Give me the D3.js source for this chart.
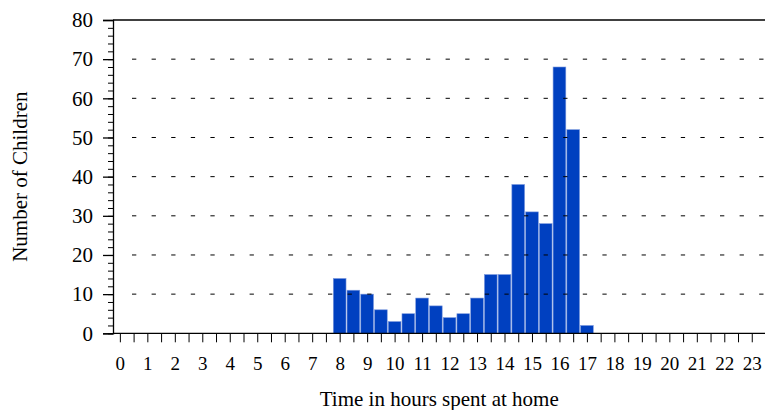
<!DOCTYPE html>
<html>
<head>
<meta charset="utf-8">
<script src="https://cdn.jsdelivr.net/npm/d3@7"></script>
<style>
  body { margin: 0; background: #fff; }
  svg text { font-family: "Liberation Serif", "Times New Roman", serif; fill: #000; }
</style>
</head>
<body>
<script>
// half-hour bins (bin centre, hours) and number of children in each
const binHours = [8, 8.5, 9, 9.5, 10, 10.5, 11, 11.5, 12, 12.5, 13, 13.5, 14, 14.5, 15, 15.5, 16, 16.5, 17];
const childCounts = [14, 11, 10, 6, 3, 5, 9, 7, 4, 5, 9, 15, 15, 38, 31, 28, 68, 52, 2];
const hourLabels = [0, 1, 2, 3, 4, 5, 6, 7, 8, 9, 10, 11, 12, 13, 14, 15, 16, 17, 18, 19, 20, 21, 22, 23];
const countTicks = [0, 10, 20, 30, 40, 50, 60, 70, 80];

const W = 765, H = 410;
const plotL = 113, plotR = 765.5, plotT = 20, plotB = 333.3;
const serif = '"Liberation Serif", "Times New Roman", serif';

const svg = d3.select("body").append("svg")
  .attr("width", W).attr("height", H);

const x = d3.scaleLinear().domain([-0.25, 23.5]).range([plotL, plotR]);
const y = d3.scaleLinear().domain([0, 80]).range([plotB, plotT]);
const binW = x(0.5) - x(0);

// bars
svg.append("g").selectAll("rect")
  .data(binHours)
  .join("rect")
  .attr("x", (d) => x(d) - binW / 2 + 0.5)
  .attr("y", (d, i) => y(childCounts[i]))
  .attr("width", binW - 1)
  .attr("height", (d, i) => y(0) - y(childCounts[i]))
  .attr("fill", "#0040c0")
  .attr("stroke", "#7d9ade")
  .attr("stroke-width", 0.6);

// dashed grid, drawn in front of bars
svg.append("g").selectAll("line")
  .data(countTicks.filter((d) => d > 0 && d < 80))
  .join("line")
  .attr("x1", plotL + 19).attr("x2", plotR)
  .attr("y1", (d) => y(d)).attr("y2", (d) => y(d))
  .attr("stroke", "#000").attr("stroke-width", 1)
  .attr("stroke-dasharray", "4.3,15.3");

// frame: top border
svg.append("line")
  .attr("x1", plotL).attr("x2", plotR)
  .attr("y1", y(80)).attr("y2", y(80))
  .attr("stroke", "#000").attr("stroke-width", 1.3);

// y axis: minor ticks every 2
const yMinor = d3.axisLeft(y).tickValues(d3.range(0, 81, 2)).tickSize(5).tickFormat("");
svg.append("g").attr("transform", `translate(${plotL},0)`).call(yMinor)
  .call((g) => g.select(".domain").remove())
  .selectAll("line").attr("stroke-width", 1);

const yAxis = d3.axisLeft(y).tickValues(countTicks).tickSize(10).tickPadding(10);
const gy = svg.append("g").attr("transform", `translate(${plotL},0)`).call(yAxis);
gy.attr("font-family", null);
gy.select(".domain").attr("stroke-width", 1.3);
gy.selectAll("line").attr("stroke-width", 1.3);
gy.selectAll("text").style("font-size", "21px").style("font-family", serif);

// x axis: ticks every half hour, labels on whole hours
const xAxis = d3.axisBottom(x).tickValues(d3.range(0, 23.5, 0.5)).tickSize(9)
  .tickFormat((d) => hourLabels.includes(d) ? d : "").tickPadding(14);
const gx = svg.append("g").attr("transform", `translate(0,${plotB})`).call(xAxis);
gx.attr("font-family", null);
gx.select(".domain").attr("d", `M${plotL},0H${plotR}`).attr("stroke-width", 1.3);
gx.selectAll("line").attr("stroke-width", 1);
gx.selectAll("text").style("font-size", "19px").style("font-family", serif);

// titles
svg.append("text")
  .attr("x", (plotL + plotR) / 2).attr("y", 405.5)
  .attr("text-anchor", "middle").style("font-size", "21px")
  .text("Time in hours spent at home");

svg.append("text")
  .attr("transform", `translate(26.5,${(plotT + plotB) / 2}) rotate(-90)`)
  .attr("text-anchor", "middle").style("font-size", "21px")
  .text("Number of Children");
</script>
</body>
</html>
